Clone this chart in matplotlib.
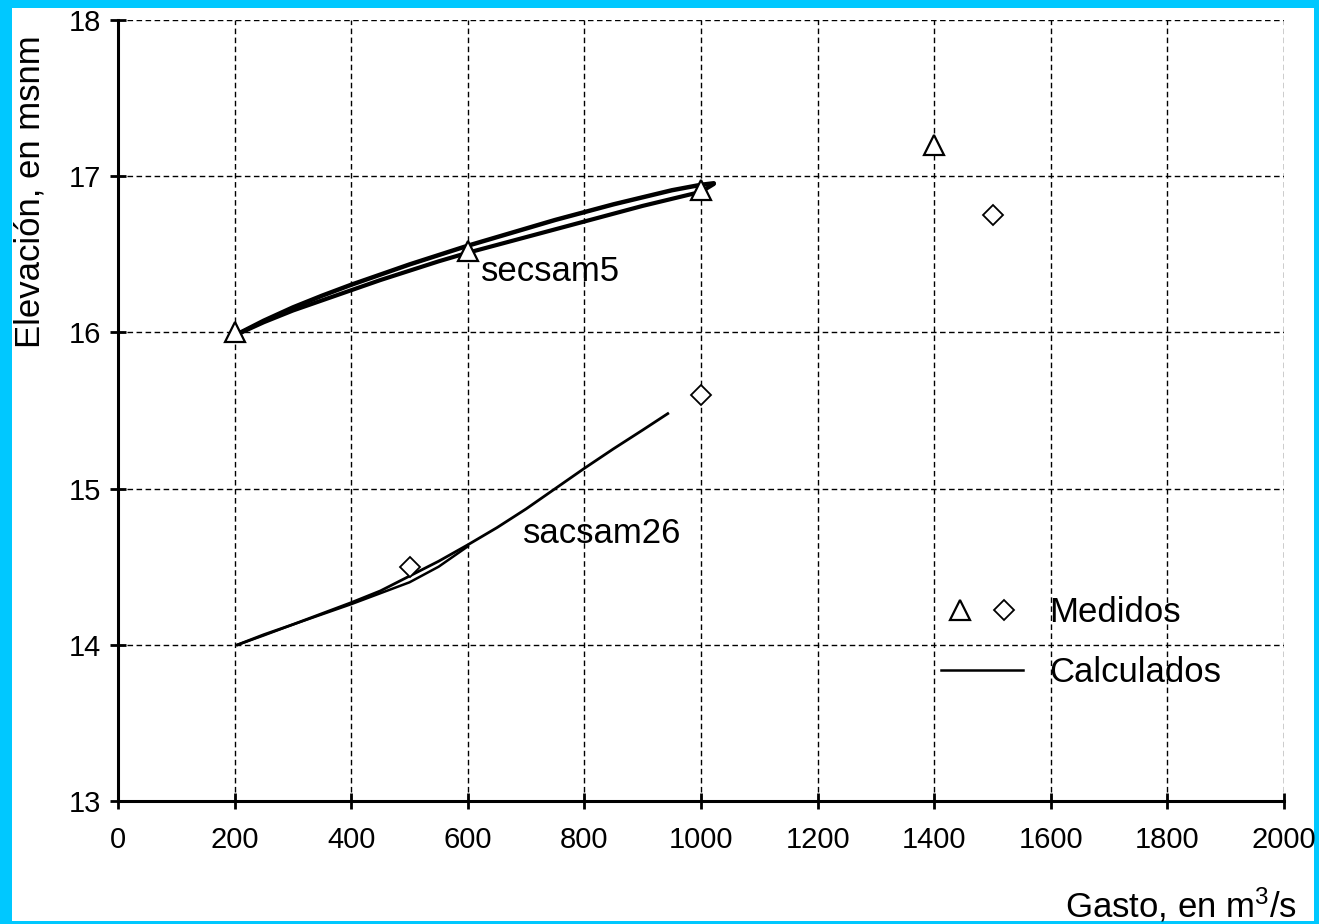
import matplotlib
matplotlib.use('Agg')
import matplotlib.pyplot as plt
from matplotlib.lines import Line2D
from matplotlib.legend_handler import HandlerTuple
from matplotlib.patches import Rectangle

plt.rcParams['font.family'] = ['Liberation Sans', 'DejaVu Sans']
plt.rcParams['mathtext.default'] = 'regular'

# medidos
tri_x = [200, 600, 1000, 1400]
tri_y = [16.0, 16.52, 16.91, 17.2]
dia_x = [500, 1000, 1500]
dia_y = [14.5, 15.6, 16.75]

# calculados secsam5 (lazo: rama superior e inferior)
sec_up_x = [200, 250, 300, 350, 400, 450, 500, 550, 600, 650, 700, 750, 800, 850, 900, 950, 1000, 1022]
sec_up_y = [15.98, 16.075, 16.16, 16.235, 16.305, 16.37, 16.435, 16.495, 16.555, 16.61, 16.665, 16.72,
            16.77, 16.82, 16.865, 16.91, 16.945, 16.955]
sec_lo_x = [200, 250, 300, 350, 400, 450, 500, 550, 600, 650, 700, 750, 800, 850, 900, 950, 1000, 1022]
sec_lo_y = [15.98, 16.065, 16.14, 16.205, 16.27, 16.335, 16.395, 16.455, 16.51, 16.56, 16.61, 16.66,
            16.71, 16.76, 16.81, 16.855, 16.90, 16.95]

# calculados sacsam26
sac_up_x = [205, 250, 300, 350, 400, 450, 500, 550, 600, 650, 700, 750, 800, 850, 900, 943]
sac_up_y = [14.0, 14.065, 14.13, 14.20, 14.27, 14.345, 14.44, 14.535, 14.64, 14.75, 14.87, 15.0,
            15.13, 15.255, 15.375, 15.48]
sac_lo_x = [205, 250, 300, 350, 400, 450, 500, 550, 600]
sac_lo_y = [14.0, 14.06, 14.13, 14.195, 14.26, 14.33, 14.40, 14.50, 14.63]

xticks = [0, 200, 400, 600, 800, 1000, 1200, 1400, 1600, 1800, 2000]
yticks = [13, 14, 15, 16, 17, 18]

fig = plt.figure(figsize=(13.19, 9.24), dpi=100)

# marco cian de fondo
bg = fig.add_axes([0, 0, 1, 1], zorder=-10)
bg.set_axis_off()
bg.set_xlim(0, 1319)
bg.set_ylim(924, 0)
bg.add_patch(Rectangle((0, 0), 1319, 924, facecolor='#00C8FF', edgecolor='none'))
bg.add_patch(Rectangle((12, 8), 1314 - 12, 921 - 8, facecolor='white', edgecolor='none'))

ax = fig.add_axes([118 / 1319, 1 - 801 / 924, (1284 - 118) / 1319, (801 - 20) / 924])
ax.patch.set_alpha(0)

ax.plot(sec_up_x, sec_up_y, color='black', lw=3.2, solid_capstyle='round', zorder=3)
ax.plot(sec_lo_x, sec_lo_y, color='black', lw=3.0, solid_capstyle='round', zorder=3)
ax.plot(sac_up_x, sac_up_y, color='black', lw=2.0, zorder=3)
ax.plot(sac_lo_x, sac_lo_y, color='black', lw=1.8, zorder=3)

ax.plot(tri_x, tri_y, ls='none', marker='^', ms=15, mfc='white', mec='black', mew=1.6, zorder=4)
ax.plot(dia_x, dia_y, ls='none', marker='D', ms=10, mfc='white', mec='black', mew=1.3, zorder=4)

ax.text(622, 16.39, 'secsam5', fontsize=25, va='center', ha='left')
ax.text(694, 14.71, 'sacsam26', fontsize=25, va='center', ha='left')

ax.set_xlim(0, 2000)
ax.set_ylim(13, 18)
ax.set_xticks(xticks)
ax.set_yticks(yticks)
ax.tick_params(axis='both', direction='inout', length=12, width=2, labelsize=21)
ax.tick_params(axis='x', pad=12)
ax.tick_params(axis='y', pad=6)
ax.grid(True, color='black', ls=(0, (4, 2.5)), lw=1.0)
ax.set_axisbelow(True)
for s in ['top', 'right']:
    ax.spines[s].set_visible(False)
for s in ['left', 'bottom']:
    ax.spines[s].set_linewidth(2.2)
    ax.spines[s].set_zorder(5)

ax.set_ylabel('Elevación, en msnm', fontsize=25)
ax.yaxis.set_label_coords(-0.061, 0.78)
ax.set_xlabel('Gasto, en m$^{3}$/s', fontsize=25, ha='right')
ax.xaxis.set_label_coords(1.011, -0.108)

h_tri = Line2D([], [], ls='none', marker='^', ms=15, mfc='white', mec='black', mew=1.6)
h_dia = Line2D([], [], ls='none', marker='D', ms=10, mfc='white', mec='black', mew=1.3)
h_line = Line2D([], [], color='black', lw=1.8)
ax.legend([(h_tri, h_dia), h_line], ['Medidos', 'Calculados'],
          handler_map={tuple: HandlerTuple(ndivide=None, pad=0.2)},
          loc='center left', bbox_to_anchor=(0.706, 0.203), frameon=False,
          fontsize=25, handlelength=2.35, handletextpad=0.75, labelspacing=0.78,
          borderpad=0, borderaxespad=0, numpoints=1)

fig.savefig('out.png', dpi=100)
